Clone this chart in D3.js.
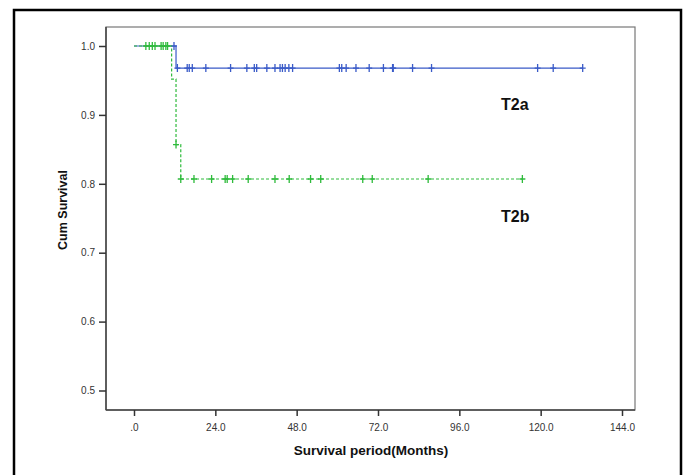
<!DOCTYPE html>
<html>
<head>
<meta charset="utf-8">
<script src="https://cdn.jsdelivr.net/npm/d3@7"></script>
<style>
  body { margin: 0; background: #fff; }
  svg { display: block; font-family: "Liberation Sans", Arial, sans-serif; }
</style>
</head>
<body>
<svg id="chart" width="683" height="475"></svg>
<script>
// Kaplan-Meier steps: [months, cum survival]
const t2aSteps = [[0, 1.0], [12.4, 0.968]];
const t2aEnd = 132.4;
const t2aCensored = [
  11.8, 12.8, 15.7, 16.3, 17.2, 21.2, 28.5, 33.3, 35.5, 36.2, 39.2, 41.6, 43.1, 43.8,
  44.6, 45.7, 46.8, 60.6, 61.3, 62.6, 65.5, 69.4, 73.6, 76.3, 76.5, 82.2, 87.8,
  119.1, 123.7, 132.4
];

const t2bSteps = [[0, 1.0], [11.1, 0.952], [12.4, 0.857], [13.8, 0.807]];
const t2bEnd = 114.6;
const t2bCensored = [
  3.5, 4.5, 5.4, 6.2, 8.0, 8.6, 9.4, 9.9, 12.4, 13.8, 17.7, 22.9, 26.9, 27.5, 29.1,
  33.7, 41.6, 45.8, 52.1, 55.1, 67.5, 70.3, 86.8, 114.6
];

const xTicks = [0, 24, 48, 72, 96, 120, 144];
const yTicks = [0.5, 0.6, 0.7, 0.8, 0.9, 1.0];

const svg = d3.select('#chart');

// outer black frame
svg.append('rect')
  .attr('x', 14).attr('y', 10)
  .attr('width', 667).attr('height', 480)
  .attr('fill', 'none')
  .attr('stroke', '#000')
  .attr('stroke-width', 2.5);

const frame = { left: 106, right: 635, top: 27, bottom: 410 };

const x = d3.scaleLinear().domain([0, 144]).range([134, 622]);
const y = d3.scaleLinear().domain([0.5, 1.0]).range([390.5, 46]);

// plot frame
svg.append('rect')
  .attr('x', frame.left).attr('y', frame.top)
  .attr('width', frame.right - frame.left)
  .attr('height', frame.bottom - frame.top)
  .attr('fill', 'none')
  .attr('stroke', '#777')
  .attr('stroke-width', 1.2);

// axes
const xAxis = d3.axisBottom(x)
  .tickValues(xTicks)
  .tickSize(6)
  .tickSizeOuter(0)
  .tickPadding(8)
  .tickFormat(d => d === 0 ? '.0' : d.toFixed(1));

const yAxis = d3.axisLeft(y)
  .tickValues(yTicks)
  .tickSize(7)
  .tickSizeOuter(0)
  .tickPadding(4)
  .tickFormat(d3.format('.1f'));

const gx = svg.append('g')
  .attr('transform', `translate(0, ${frame.bottom})`)
  .call(xAxis);
gx.select('.domain').attr('d', `M${frame.left},0H${frame.right}`).attr('stroke', '#444').attr('stroke-width', 1.5);

const gy = svg.append('g')
  .attr('transform', `translate(${frame.left}, 0)`)
  .call(yAxis);
gy.select('.domain').attr('d', `M0,${frame.top}V${frame.bottom}`).attr('stroke', '#444').attr('stroke-width', 1.5);

svg.selectAll('.tick line').attr('stroke', '#333').attr('stroke-width', 1.5);
svg.selectAll('.tick text')
  .attr('fill', '#333')
  .style('font-size', '10px')
  .style('font-family', '"Liberation Sans", Arial, sans-serif');

// axis titles
svg.append('text')
  .attr('x', 371).attr('y', 455)
  .attr('text-anchor', 'middle')
  .style('font-size', '13.5px')
  .style('font-weight', 'bold')
  .attr('fill', '#111')
  .text('Survival period(Months)');

svg.append('text')
  .attr('transform', 'translate(67, 210) rotate(-90)')
  .attr('text-anchor', 'middle')
  .style('font-size', '12.5px')
  .style('font-weight', 'bold')
  .attr('fill', '#111')
  .text('Cum Survival');

function stepPath(steps, end) {
  const pts = [];
  steps.forEach(function(s, i) {
    if (i > 0) pts.push([s[0], steps[i - 1][1]]);
    pts.push(s);
  });
  pts.push([end, steps[steps.length - 1][1]]);
  return d3.line().x(d => x(d[0])).y(d => y(d[1]))(pts);
}

function survAt(steps, t) {
  let v = steps[0][1];
  steps.forEach(function(s) { if (s[0] <= t) v = s[1]; });
  return v;
}

function drawCurve(steps, end, censored, colour, dash) {
  const g = svg.append('g');
  g.append('path')
    .attr('d', stepPath(steps, end))
    .attr('fill', 'none')
    .attr('stroke', colour)
    .attr('stroke-width', 1.2)
    .attr('stroke-dasharray', dash);
  g.selectAll('.cens')
    .data(censored)
    .enter().append('path')
    .attr('class', 'cens')
    .attr('d', d => {
      const cx = x(d), cy = y(survAt(steps, d));
      return `M${cx},${cy - 4}V${cy + 4}M${cx - 3},${cy}H${cx + 3}`;
    })
    .attr('stroke', colour)
    .attr('stroke-width', 1.3);
}

drawCurve(t2aSteps, t2aEnd, t2aCensored, '#3a5bc8', null);
drawCurve(t2bSteps, t2bEnd, t2bCensored, '#2fbb3c', '3,2');

// group labels
svg.append('text')
  .attr('x', 501).attr('y', 110)
  .style('font-size', '16px')
  .style('font-weight', 'bold')
  .attr('fill', '#111')
  .text('T2a');

svg.append('text')
  .attr('x', 501).attr('y', 222)
  .style('font-size', '16px')
  .style('font-weight', 'bold')
  .attr('fill', '#111')
  .text('T2b');
</script>
</body>
</html>
